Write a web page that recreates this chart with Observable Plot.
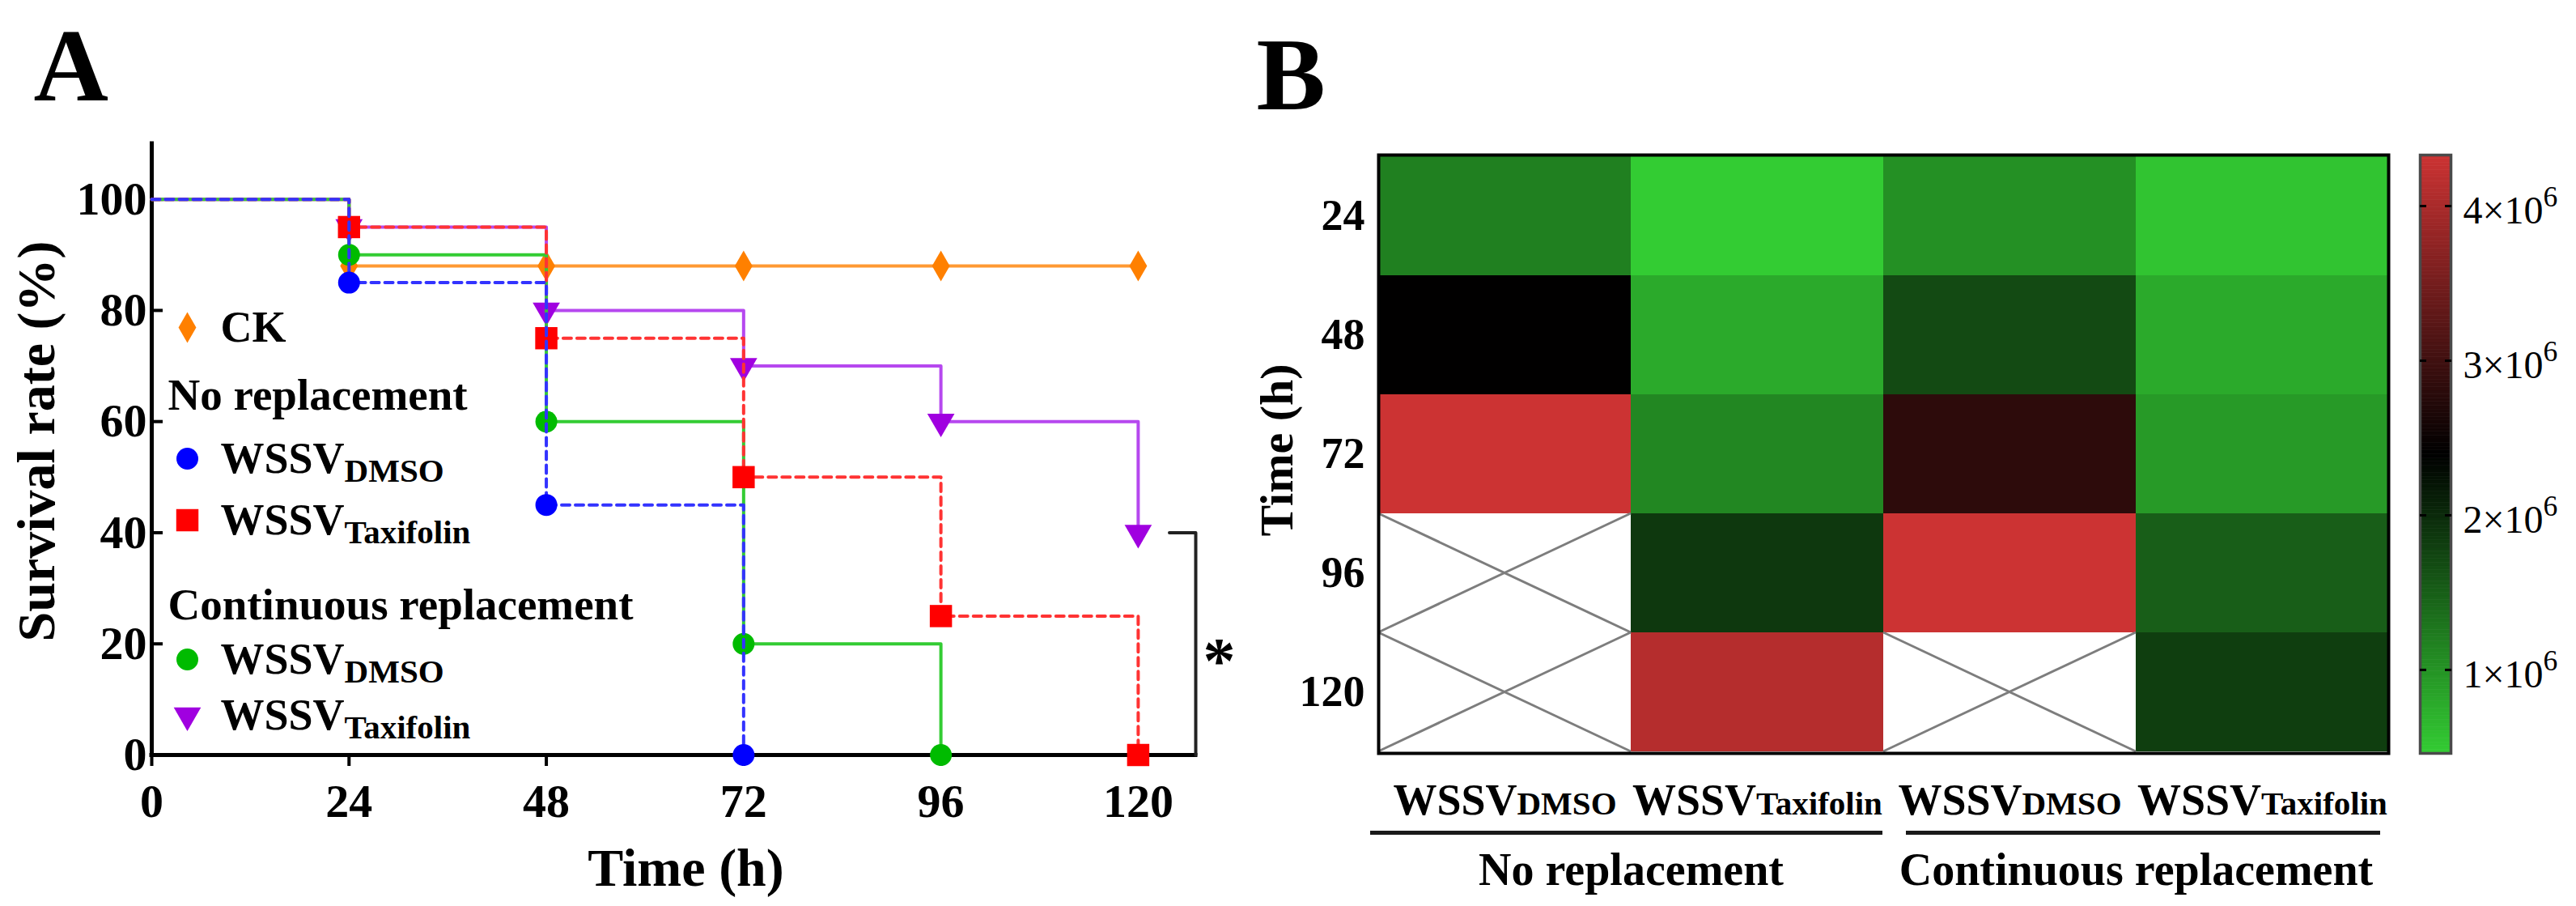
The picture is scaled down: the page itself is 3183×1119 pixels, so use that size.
<!DOCTYPE html>
<html>
<head>
<meta charset="utf-8">
<script src="https://cdn.jsdelivr.net/npm/d3@7"></script>
<script src="https://cdn.jsdelivr.net/npm/@observablehq/plot@0.6"></script>
<style>
  html, body { margin: 0; padding: 0; background: #fff; }
  #fig { position: relative; width: 3183px; height: 1119px; background: #fff; overflow: hidden; }
  #fig svg { position: absolute; top: 0; overflow: visible; }
</style>
</head>
<body>
<div id="fig"></div>
<script>
// ================= DATA : panel A (Kaplan–Meier survival) =================
const hours = [0, 24, 48, 72, 96, 120];
const ckSurvival        = [100, 88, 88, 88, 88, 88];
const noRepDmsoSurvival = [100, 85, 45, 0];
const noRepTaxSurvival  = [100, 95, 75, 50, 25, 0];
const contDmsoSurvival  = [100, 90, 60, 20, 0];
const contTaxSurvival   = [100, 95, 80, 70, 60, 40];
const hourTicks = [0, 24, 48, 72, 96, 120];
const survivalTicks = [0, 20, 40, 60, 80, 100];
const legendLabels = ["CK", "No replacement", "WSSV_DMSO", "WSSV_Taxifolin",
                      "Continuous replacement", "WSSV_DMSO", "WSSV_Taxifolin"];
const legendKeys = ["ck", null, "noRepDmso", "noRepTax", null, "contDmso", "contTax"];
const significance = "*";

// ================= DATA : panel B (heat map) =================
const loadTimes = [24, 48, 72, 96, 120];
const loadColumns = ["noRepDmso", "noRepTax", "contDmso", "contTax"];
const columnLabels = ["WSSV|DMSO", "WSSV|Taxifolin", "WSSV|DMSO", "WSSV|Taxifolin"];
const noRepDmsoLoad = [1.18e6, 2.40e6, 4.33e6, null, null];
const noRepTaxLoad  = [0.46e6, 0.78e6, 1.11e6, 1.86e6, 4.11e6];
const contDmsoLoad  = [1.03e6, 1.69e6, 2.82e6, 4.33e6, null];
const contTaxLoad   = [0.54e6, 0.78e6, 0.93e6, 1.50e6, 1.81e6];
const groupLabels = ["No replacement", "Continuous replacement"];
const colorbarLimits = [0.46e6, 4.33e6];
const colorbarTicks = [1e6, 2e6, 3e6, 4e6];

// ================= STYLES / LAYOUT =================
const FONT = "'Liberation Serif', 'Times New Roman', Times, serif";
const seriesStyle = {
  ck:        {line: "#ff9933", mark: "#ff8000", symbol: "diamond",  r: 11.5, rotate: 0,   dash: null},
  contTax:   {line: "#b648ef", mark: "#a000e0", symbol: "triangle", r: 12.5, rotate: 180, dash: null},
  contDmso:  {line: "#33cc33", mark: "#00bb00", symbol: "circle",   r: 13.5, rotate: 0,   dash: null},
  noRepTax:  {line: "#ff3333", mark: "#ff0000", symbol: "square",   r: 15.5, rotate: 0,   dash: "10,7"},
  noRepDmso: {line: "#3333ff", mark: "#0000ff", symbol: "circle",   r: 13.5, rotate: 0,   dash: "10,7"}
};
const drawOrder = ["ck", "contTax", "contDmso", "noRepTax", "noRepDmso"];
const legendBaselines = [244, 328, 406, 482, 587, 654, 723]; // px below frame top

const A = {width: 1540, height: 1119, marginLeft: 187, marginRight: 63, marginTop: 177, marginBottom: 187};
const B = {left: 1540, width: 1643, height: 1119, marginLeft: 163, marginRight: 232, marginTop: 191, marginBottom: 189};
const CB = {left: 2990, width: 193, height: 1119, marginLeft: 0, marginRight: 155, marginTop: 191, marginBottom: 189};
const xMax = 127, yMax = 110;

const svgStyle = {fontFamily: FONT, fontWeight: "bold", fontSize: "40px", background: "transparent", overflow: "visible", color: "black"};

// ================= helpers =================
const survivalSeries = {ck: ckSurvival, contTax: contTaxSurvival, contDmso: contDmsoSurvival,
                        noRepTax: noRepTaxSurvival, noRepDmso: noRepDmsoSurvival};
const seriesRows = k => survivalSeries[k].map((v, i) => ({hour: hours[i], value: v}));

function richText(svg) {
  const ns = "http://www.w3.org/2000/svg";
  const span = (parent, txt, opts = {}) => {
    const t = document.createElementNS(ns, "tspan");
    t.textContent = txt;
    if (opts.size) t.style.fontSize = opts.size;
    if (opts.dy) t.setAttribute("dy", opts.dy);
    parent.appendChild(t);
  };
  for (const t of svg.querySelectorAll("text")) {
    const s = t.textContent;
    let m;
    if ((m = s.match(/^(.+?)_(.+)$/))) {
      t.textContent = ""; span(t, m[1]); span(t, m[2], {size: "0.76em", dy: "0.29em"});
    } else if ((m = s.match(/^(.+?)\|(.+)$/))) {
      t.textContent = ""; span(t, m[1]); span(t, m[2], {size: "0.76em"});
    } else if ((m = s.match(/^(.+?)\^(.+)$/))) {
      t.textContent = ""; span(t, m[1]); span(t, m[2], {size: "0.74em", dy: "-0.58em"});
    }
  }
}

// draw the diagonal cross over every "no data" cell, using the rects Plot laid out
function crossMissing(svg) {
  const ns = "http://www.w3.org/2000/svg";
  const groups = [...svg.querySelectorAll('g[aria-label="cell"]')];
  let g = groups.find(el => (el.getAttribute("fill") || "").toLowerCase() === "white") || groups[1];
  if (!g) return;
  for (const r of [...g.querySelectorAll("rect")]) {
    const x = +r.getAttribute("x"), y = +r.getAttribute("y");
    const w = +r.getAttribute("width"), h = +r.getAttribute("height");
    for (const [x1, y1, x2, y2] of [[x, y, x + w, y + h], [x, y + h, x + w, y]]) {
      const l = document.createElementNS(ns, "line");
      l.setAttribute("x1", x1); l.setAttribute("y1", y1);
      l.setAttribute("x2", x2); l.setAttribute("y2", y2);
      l.setAttribute("stroke", "#7d7d7d"); l.setAttribute("stroke-width", 3);
      g.appendChild(l);
    }
  }
}

const fig = document.getElementById("fig");
function place(svg, left) { svg.style.left = left + "px"; fig.appendChild(svg); }

// ================= PANEL A =================
const seriesMarks = drawOrder.flatMap(k => {
  const s = seriesStyle[k];
  const rows = seriesRows(k);
  return [
    Plot.line(rows, {x: "hour", y: "value", curve: "step-after", stroke: s.line, strokeWidth: 4,
                     strokeDasharray: s.dash || undefined}),
    Plot.dot(rows.slice(1), {x: "hour", y: "value", symbol: s.symbol, r: s.r, fill: s.mark, rotate: s.rotate})
  ];
});

const legendMarks = legendLabels.flatMap((label, i) => {
  const k = legendKeys[i];
  const base = legendBaselines[i];
  if (!k) return [Plot.text([label], {frameAnchor: "top-left", dx: 20, dy: base, textAnchor: "start",
                                      lineAnchor: "bottom", fontSize: 55})];
  const s = seriesStyle[k];
  return [
    Plot.dot([label], {frameAnchor: "top-left", dx: 44, dy: base - 17, symbol: s.symbol, r: s.r, fill: s.mark, rotate: s.rotate}),
    Plot.text([label], {frameAnchor: "top-left", dx: 85, dy: base, textAnchor: "start", lineAnchor: "bottom", fontSize: 54})
  ];
});

const lastHour = hours[hours.length - 1];
const bracketTop = contTaxSurvival[contTaxSurvival.length - 1];
const bracketBottom = noRepTaxSurvival[noRepTaxSurvival.length - 1];
const bracket = [
  {hour: lastHour + 3.8, value: bracketTop},
  {hour: xMax, value: bracketTop},
  {hour: xMax, value: bracketBottom}
];

const panelA = Plot.plot({
  ...A,
  x: {domain: [0, xMax]},
  y: {domain: [0, yMax]},
  style: svgStyle,
  marks: [
    Plot.ruleY([0], {stroke: "black", strokeWidth: 5, strokeLinecap: "square"}),
    Plot.ruleX([0], {stroke: "black", strokeWidth: 5, strokeLinecap: "square"}),
    Plot.axisX({ticks: hourTicks, tickSize: 14, tickPadding: 21, fontSize: 58, strokeWidth: 4, label: null}),
    Plot.axisY({ticks: survivalTicks, tickSize: 0, tickPadding: 6, fontSize: 58, label: null}),
    Plot.axisY({ticks: survivalTicks, tickSize: -14, strokeWidth: 4, tickFormat: () => "", label: null}),
    ...seriesMarks,
    Plot.line(bracket, {x: "hour", y: "value", stroke: "#222", strokeWidth: 4}),
    Plot.text([significance], {x: () => xMax, y: () => (bracketTop + bracketBottom) / 2, dx: 29, dy: 22, fontSize: 80}),
    ...legendMarks,
    Plot.text(["Survival rate (%)"], {frameAnchor: "left", rotate: -90, dx: -121, dy: -10,
                                      textAnchor: "middle", lineAnchor: "bottom", fontSize: 66}),
    Plot.text(["Time (h)"], {frameAnchor: "bottom", dx: 15, dy: 161, textAnchor: "middle", lineAnchor: "bottom", fontSize: 66}),
    Plot.text(["A"], {frameAnchor: "top-left", dx: -146, dy: -54, textAnchor: "start", lineAnchor: "bottom", fontSize: 128})
  ]
});
richText(panelA);
place(panelA, 0);

// ================= PANEL B (heat map) =================
const loadSeries = [noRepDmsoLoad, noRepTaxLoad, contDmsoLoad, contTaxLoad];
const cells = loadColumns.flatMap((c, j) => loadTimes.map((t, i) => ({column: c, time: t, value: loadSeries[j][i]})));
const vMid = (colorbarLimits[0] + colorbarLimits[1]) / 2;
const colorScale = {type: "linear", domain: [colorbarLimits[0], vMid, colorbarLimits[1]],
                    range: ["#33cc33", "#000000", "#cc3333"], interpolate: "rgb", clamp: true};
const bandwidth = (B.width - B.marginLeft - B.marginRight) / loadColumns.length;
const frameMidY = (B.marginTop + B.height - B.marginBottom) / 2;
const groupInsets = [[-10, 1], [28, 10]];

const groupMarks = groupLabels.flatMap((g, i) => [
  Plot.ruleY([g], {x1: () => loadColumns[2 * i], x2: () => loadColumns[2 * i + 1], y: null,
                   dy: 1028 - frameMidY, stroke: "#1a1a1a", strokeWidth: 5,
                   insetLeft: groupInsets[i][0], insetRight: groupInsets[i][1]}),
  Plot.text([g], {x: () => loadColumns[2 * i], dx: bandwidth / 2, frameAnchor: "bottom",
                  dy: 1092 - (B.height - B.marginBottom), textAnchor: "middle", lineAnchor: "bottom", fontSize: 56})
]);

const panelB = Plot.plot({
  width: B.width, height: B.height, marginLeft: B.marginLeft, marginRight: B.marginRight,
  marginTop: B.marginTop, marginBottom: B.marginBottom,
  x: {type: "band", domain: loadColumns, padding: 0},
  y: {type: "band", domain: loadTimes, padding: 0},
  color: colorScale,
  style: svgStyle,
  marks: [
    Plot.cell(cells.filter(d => d.value != null), {x: "column", y: "time", fill: "value", inset: 0}),
    Plot.cell(cells.filter(d => d.value == null), {x: "column", y: "time", fill: "white", inset: 0}),
    Plot.frame({stroke: "black", strokeWidth: 4}),
    Plot.axisY({tickSize: 0, tickPadding: 17, fontSize: 54, label: null}),
    Plot.axisX({tickSize: 0, tickPadding: 37, fontSize: 54, label: null,
                tickFormat: d => columnLabels[loadColumns.indexOf(d)]}),
    ...groupMarks,
    Plot.text(["Time (h)"], {frameAnchor: "left", rotate: -90, dx: -107, dy: -5,
                             textAnchor: "middle", lineAnchor: "bottom", fontSize: 58}),
    Plot.text(["B"], {frameAnchor: "top-left", dx: 1552 - (B.left + B.marginLeft), dy: 134 - B.marginTop,
                      textAnchor: "start", lineAnchor: "bottom", fontSize: 128})
  ]
});
crossMissing(panelB);
richText(panelB);
place(panelB, B.left);

// ================= COLOUR BAR =================
const nStrips = 160;
const strips = d3.range(nStrips).map(i => {
  const lo = colorbarLimits[0] + (colorbarLimits[1] - colorbarLimits[0]) * i / nStrips;
  const hi = colorbarLimits[0] + (colorbarLimits[1] - colorbarLimits[0]) * (i + 1) / nStrips;
  return {lo, hi, mid: (lo + hi) / 2};
});
const colorbar = Plot.plot({
  width: CB.width, height: CB.height, marginLeft: CB.marginLeft, marginRight: CB.marginRight,
  marginTop: CB.marginTop, marginBottom: CB.marginBottom,
  y: {domain: colorbarLimits},
  color: colorScale,
  style: svgStyle,
  marks: [
    Plot.rect(strips, {y1: "lo", y2: "hi", fill: "mid", stroke: "mid", strokeWidth: 0.6}),
    Plot.frame({stroke: "#4a4a4a", strokeWidth: 3.5}),
    Plot.axisY({anchor: "left", ticks: colorbarTicks, tickSize: -8, strokeWidth: 3, tickFormat: () => "", label: null}),
    Plot.axisY({anchor: "right", ticks: colorbarTicks, tickSize: -8, strokeWidth: 3, tickFormat: () => "", label: null}),
    Plot.axisY({anchor: "right", ticks: colorbarTicks, tickSize: 0, tickPadding: 15,
                fontSize: 48, fontWeight: "normal", dy: 6, label: null,
                tickFormat: d => `${d / 1e6}×10^6`})
  ]
});
richText(colorbar);
place(colorbar, CB.left);
</script>
</body>
</html>
